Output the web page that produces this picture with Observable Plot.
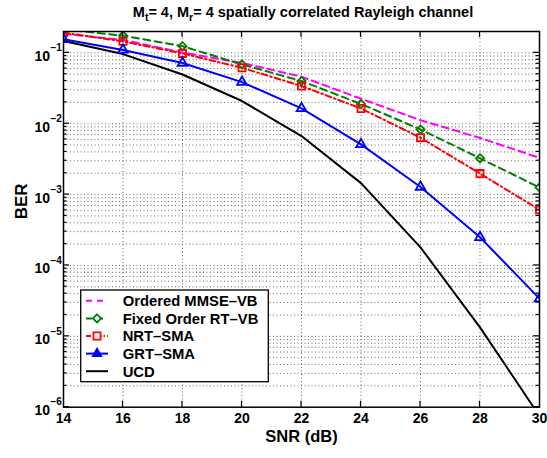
<!DOCTYPE html>
<html>
<head>
<meta charset="utf-8">
<script src="https://cdn.jsdelivr.net/npm/d3@7"></script>
<script src="https://cdn.jsdelivr.net/npm/@observablehq/plot@0.6"></script>
<style>
  html, body { margin: 0; padding: 0; background: #fff; }
  #chart { width: 547px; height: 458px; }
</style>
</head>
<body>
<div id="chart"></div>
<script>
// ---- data ----
const snr = [14, 16, 18, 20, 22, 24, 26, 28, 30];
const orderedMMSE = [0.185, 0.152, 0.101, 0.072, 0.046, 0.0225, 0.0112, 0.0063, 0.0033];
const fixedOrderRT = [0.215, 0.175, 0.124, 0.0686, 0.040, 0.019, 0.0083, 0.00325, 0.00126];
const nrtSMA = [0.193, 0.145, 0.098, 0.0615, 0.034, 0.0164, 0.00635, 0.00198, 0.00061];
const grtSMA = [0.155, 0.110, 0.072, 0.0386, 0.0165, 0.0051, 0.00128, 0.00025, 0.000034];
const ucd = [0.147, 0.096, 0.0495, 0.0209, 0.0067, 0.00145, 0.00018, 0.0000134, 0.00000075];

const seriesNames = ["Ordered MMSE\u2013VB", "Fixed Order RT\u2013VB", "NRT\u2013SMA", "GRT\u2013SMA", "UCD"];
const seriesValues = [orderedMMSE, fixedOrderRT, nrtSMA, grtSMA, ucd];

const xTicks = [14, 16, 18, 20, 22, 24, 26, 28, 30];
const yDecades = [1e-6, 1e-5, 1e-4, 1e-3, 1e-2, 1e-1];
const yExponents = ["\u22126", "\u22125", "\u22124", "\u22123", "\u22122", "\u22121"];
const titleParts = ["M", "t", "= 4, M", "r", "= 4 spatially correlated Rayleigh channel"];
const xLabel = "SNR (dB)";
const yLabel = "BER";

(function () {
// ---- styles ----
const styles = [
  {stroke: "#ff00ff", dash: "7,4.5", symbol: null},
  {stroke: "#008000", dash: "7,4.5", symbol: "diamond2", r: 3.7},
  {stroke: "#ff0000", dash: "6,3,1.5,3", symbol: "square", r: 4.0},
  {stroke: "#0000ff", dash: null, symbol: "triangle2", r: 4.6},
  {stroke: "#000000", dash: null, symbol: null}
];
const FONT = "'Liberation Sans', Arial, Helvetica, sans-serif";

const rows = seriesValues.map(vals => snr.map((x, i) => ({x, y: vals[i]})));
const minor = [];
for (const d of yDecades) for (let m = 2; m <= 9; m++) { const v = m * d; if (v < 0.2) minor.push(v); }

const marks = [
  Plot.ruleX(xTicks.slice(1, -1), {x: d => d, stroke: "#444", strokeWidth: 0.8, strokeDasharray: "1,2.5"}),
  Plot.ruleY(yDecades.slice(1), {y: d => d, stroke: "#444", strokeWidth: 0.8, strokeDasharray: "1,2.5"}),
  Plot.ruleY(minor, {y: d => d, stroke: "#444", strokeWidth: 0.8, strokeDasharray: "1,2.5"})
];
rows.forEach((r, k) => {
  const s = styles[k];
  marks.push(Plot.line(r, {x: "x", y: "y", stroke: s.stroke, strokeWidth: 2, strokeDasharray: s.dash, clip: true}));
});
rows.forEach((r, k) => {
  const s = styles[k];
  if (s.symbol) marks.push(Plot.dot(r, {x: "x", y: "y", symbol: s.symbol, r: s.r, stroke: s.stroke, fill: "none", strokeWidth: 1.8, clip: true}));
});
marks.push(
  Plot.frame({stroke: "black", strokeWidth: 1.5}),
  Plot.text(xTicks, {x: d => d, frameAnchor: "bottom", dy: 15.5, text: d => String(d), fontSize: 14, fontWeight: "bold", fill: "black"}),
  Plot.text(yDecades, {y: d => d, frameAnchor: "left", dx: -13.5, dy: 3.5, text: () => "10", textAnchor: "end", fontSize: 14, fontWeight: "bold", fill: "black"}),
  Plot.text(yDecades, {y: d => d, frameAnchor: "left", dx: -13, dy: -5, text: (d, i) => yExponents[i], textAnchor: "start", fontSize: 10, fontWeight: "bold", fill: "black"}),
  Plot.text([xLabel], {frameAnchor: "bottom", dy: 35, text: d => d, fontSize: 16.5, fontWeight: "bold", fill: "black"}),
  Plot.text([yLabel], {frameAnchor: "left", dx: -42, rotate: -90, text: d => d, fontSize: 17, fontWeight: "bold", fill: "black"})
);

const chart = Plot.plot({
  width: 547, height: 458,
  marginLeft: 63, marginRight: 8, marginTop: 31, marginBottom: 51.3,
  x: {domain: [14, 30], axis: null},
  y: {type: "log", domain: [1e-6, 0.2], axis: null},
  style: {fontFamily: FONT, background: "white", overflow: "visible"},
  marks
});
document.getElementById("chart").appendChild(chart);

// ---- ticks, title, legend (positions from Plot's own scales) ----
const svg = d3.select(chart);
const sx = chart.scale("x"), sy = chart.scale("y");
const X = v => sx.apply(v), Y = v => sy.apply(v);
const pxLeft = X(14), pxRight = X(30), pxTop = Y(0.2), pxBottom = Y(1e-6);
const tg = svg.append("g").attr("stroke", "black").attr("stroke-width", 1.2);
xTicks.slice(1, -1).forEach(v => {
  tg.append("line").attr("x1", X(v)).attr("x2", X(v)).attr("y1", pxBottom).attr("y2", pxBottom - 6);
  tg.append("line").attr("x1", X(v)).attr("x2", X(v)).attr("y1", pxTop).attr("y2", pxTop + 6);
});
yDecades.forEach(v => {
  tg.append("line").attr("x1", pxLeft).attr("x2", pxLeft + 6).attr("y1", Y(v)).attr("y2", Y(v));
  tg.append("line").attr("x1", pxRight).attr("x2", pxRight - 6).attr("y1", Y(v)).attr("y2", Y(v));
});
minor.forEach(v => {
  tg.append("line").attr("x1", pxLeft).attr("x2", pxLeft + 3.5).attr("y1", Y(v)).attr("y2", Y(v));
  tg.append("line").attr("x1", pxRight).attr("x2", pxRight - 3.5).attr("y1", Y(v)).attr("y2", Y(v));
});

// title with subscripts
const t = svg.append("text").attr("x", (pxLeft + pxRight) / 2 + 2).attr("y", 17)
  .attr("text-anchor", "middle").attr("font-family", FONT).attr("font-weight", "bold")
  .attr("font-size", 14.5).attr("fill", "black");
t.append("tspan").text(titleParts[0]);
t.append("tspan").attr("dy", 4).attr("font-size", 10.5).text(titleParts[1]);
t.append("tspan").attr("dy", -4).text(titleParts[2]);
t.append("tspan").attr("dy", 4).attr("font-size", 10.5).text(titleParts[3]);
t.append("tspan").attr("dy", -4).text(titleParts[4]);

// legend
const lg = svg.append("g");
const lx0 = 80.7, ly0 = 290, lw = 187.6, lh = 91.7;
lg.append("rect").attr("x", lx0).attr("y", ly0).attr("width", lw).attr("height", lh)
  .attr("fill", "white").attr("stroke", "black").attr("stroke-width", 1.3);
const symbolMap = {diamond2: d3.symbolDiamond2, square: d3.symbolSquare, triangle2: d3.symbolTriangle2};
seriesNames.forEach((name, k) => {
  const s = styles[k];
  const cy = 300.8 + k * 17.6;
  lg.append("line").attr("x1", 86).attr("x2", 108).attr("y1", cy).attr("y2", cy)
    .attr("stroke", s.stroke).attr("stroke-width", 2).attr("stroke-dasharray", s.dash ? (k === 2 ? "5,2,1.5,2" : "6,5") : null);
  if (s.symbol) {
    const size = Math.PI * s.r * s.r * (k === 3 ? 0.75 : 1);
    lg.append("path").attr("transform", `translate(97,${cy})`)
      .attr("d", d3.symbol(symbolMap[s.symbol], size)())
      .attr("fill", k === 3 ? s.stroke : "white").attr("stroke", s.stroke).attr("stroke-width", 1.8);
  }
  lg.append("text").attr("x", 122.7).attr("y", cy).attr("dy", "0.36em")
    .attr("text-anchor", "start")
    .attr("font-family", FONT).attr("font-weight", "bold").attr("font-size", 14.8)
    .attr("fill", "black").text(name);
});
})();
</script>
</body>
</html>
